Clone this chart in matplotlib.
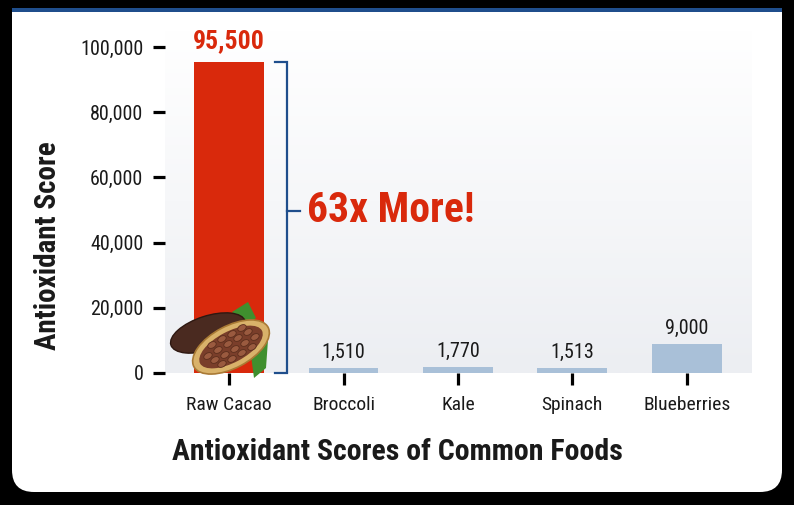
import matplotlib
matplotlib.use("Agg")
import matplotlib.pyplot as plt
import numpy as np
from matplotlib import font_manager
from matplotlib.patches import FancyBboxPatch, Rectangle, Ellipse, Polygon
from matplotlib.colors import LinearSegmentedColormap

# ---- data ----
categories = ["Raw Cacao", "Broccoli", "Kale", "Spinach", "Blueberries"]
scores = [95500, 1510, 1770, 1513, 9000]
value_labels = ["95,500", "1,510", "1,770", "1,513", "9,000"]
y_ticks = [0, 20000, 40000, 60000, 80000, 100000]
y_tick_labels = ["0", "20,000", "40,000", "60,000", "80,000", "100,000"]
callout_text = "63x More!"
y_title = "Antioxidant Score"
x_title = "Antioxidant Scores of Common Foods"

avail = {f.name for f in font_manager.fontManager.ttflist}
fam = [f for f in ["Roboto Condensed", "Liberation Sans Narrow", "Roboto", "DejaVu Sans"] if f in avail]
plt.rcParams["font.family"] = fam

RED = "#d9290c"
BLUE_BAR = "#a9c0d8"
NAVY = "#1f4e8c"
DARK = "#1a1a1a"

W, H = 794, 505
fig = plt.figure(figsize=(W / 100, H / 100), dpi=100, facecolor="black")

# background card (pixel coordinates)
bg = fig.add_axes([0, 0, 1, 1], zorder=-5)
bg.set_xlim(0, W); bg.set_ylim(H, 0); bg.axis("off")
bg.add_patch(FancyBboxPatch((12, 8), 770, 484, boxstyle="round,pad=0,rounding_size=22",
                            fc="white", ec="none"))
bg.add_patch(Rectangle((12, 8), 770, 40, fc="white", ec="none"))
bg.add_patch(Rectangle((12, 8), 770, 3.5, fc=NAVY, ec="none"))

# main axes
x0, x1 = 165, 752
ybot = 373
ymax = 105000
ppu = 326 / 100000
ytop = ybot - ymax * ppu
ax = fig.add_axes([x0 / W, (H - ybot) / H, (x1 - x0) / W, (ybot - ytop) / H])
ax.set_facecolor("none")
for s in ax.spines.values():
    s.set_visible(False)

xs = np.arange(len(categories))
ax.set_xlim(-0.56, len(categories) - 1 + 0.57)
ax.set_ylim(0, ymax)

# gradient background
grad = np.linspace(0, 1, 256).reshape(-1, 1)
cm = LinearSegmentedColormap.from_list("g", ["#eceef2", "#f6f7f9", "#ffffff"])
ax.imshow(grad, aspect="auto", cmap=cm, origin="lower",
          extent=[ax.get_xlim()[0], ax.get_xlim()[1], 0, ymax], zorder=0)

colors = [RED] + [BLUE_BAR] * (len(categories) - 1)
bars = ax.bar(xs, scores, width=0.61, color=colors, zorder=2)

for i, (b, lab) in enumerate(zip(bars, value_labels)):
    if i == 0:
        ax.annotate(lab, (b.get_x() + b.get_width() / 2, b.get_height()), xytext=(0, 6),
                    textcoords="offset points", ha="center", va="bottom",
                    fontsize=18.5, fontweight="bold", color=RED, zorder=5)
    else:
        ax.annotate(lab, (b.get_x() + b.get_width() / 2, b.get_height()), xytext=(0, 4.5),
                    textcoords="offset points", ha="center", va="bottom",
                    fontsize=14.5, color=DARK, zorder=5)

ax.set_yticks(y_ticks)
ax.set_yticklabels(y_tick_labels)
ax.set_xticks(xs)
ax.set_xticklabels(categories)
ax.tick_params(axis="y", length=8.6, width=2.3, color="black", pad=7, labelsize=14.5,
               labelcolor=DARK)
ax.tick_params(axis="x", length=8.6, width=2.3, color="black", pad=8, labelsize=14,
               labelcolor=DARK)

fig.text(48 / W, 1 - 246 / H, y_title, rotation=90, ha="center", va="center",
         fontsize=21, fontweight="bold", color=DARK)
fig.text(397 / W, 1 - 452 / H, x_title, ha="center", va="center",
         fontsize=21.5, fontweight="bold", color=DARK)

# bracket
bx = 0.507
bl = 0.402
top = scores[0]
ax.plot([bl, bx, bx, bl], [top, top, 0, 0], color=NAVY, lw=1.6, zorder=4,
        solid_joinstyle="miter", clip_on=False)
mid = top / 2 + 2000
ax.plot([bx, bx + 0.115], [mid, mid], color=NAVY, lw=1.6, zorder=4)
ax.text(bx + 0.175, mid, callout_text, ha="left", va="center", fontsize=30,
        fontweight="bold", color=RED, zorder=5)

# cacao illustration (decoration, pixel coordinates)
fg = fig.add_axes([0, 0, 1, 1], zorder=10)
fg.set_xlim(0, W); fg.set_ylim(H, 0); fg.axis("off"); fg.set_facecolor("none")
fg.add_patch(Polygon([[232, 312], [248, 302], [256, 318], [244, 326]], closed=True,
                     fc="#3f8f2e", ec="none"))
fg.add_patch(Polygon([[250, 348], [268, 340], [266, 368], [254, 378]], closed=True,
                     fc="#3f8f2e", ec="none"))
fg.add_patch(Ellipse((208, 333), 78, 34, angle=-18, fc="#4a2a20", ec="#2e1811", lw=1))
fg.add_patch(Ellipse((231, 347), 84, 42, angle=-28, fc="#d9b26a", ec="#a97a35", lw=1.2))
fg.add_patch(Ellipse((231, 347), 70, 31, angle=-28, fc="#7a3e2a", ec="none"))
bean_pos = [(208, 356), (218, 350), (228, 344), (238, 338), (248, 332), (215, 360),
            (225, 355), (235, 349), (245, 343), (255, 337), (222, 364), (232, 359),
            (242, 353), (252, 347), (212, 345), (222, 339), (232, 334), (242, 328)]
for (px, py) in bean_pos:
    fg.add_patch(Ellipse((px, py), 9, 6, angle=-28, fc="#9a5a3f", ec="#5a2d1c", lw=0.6))

fig.savefig("out.png", dpi=100, facecolor="black")
